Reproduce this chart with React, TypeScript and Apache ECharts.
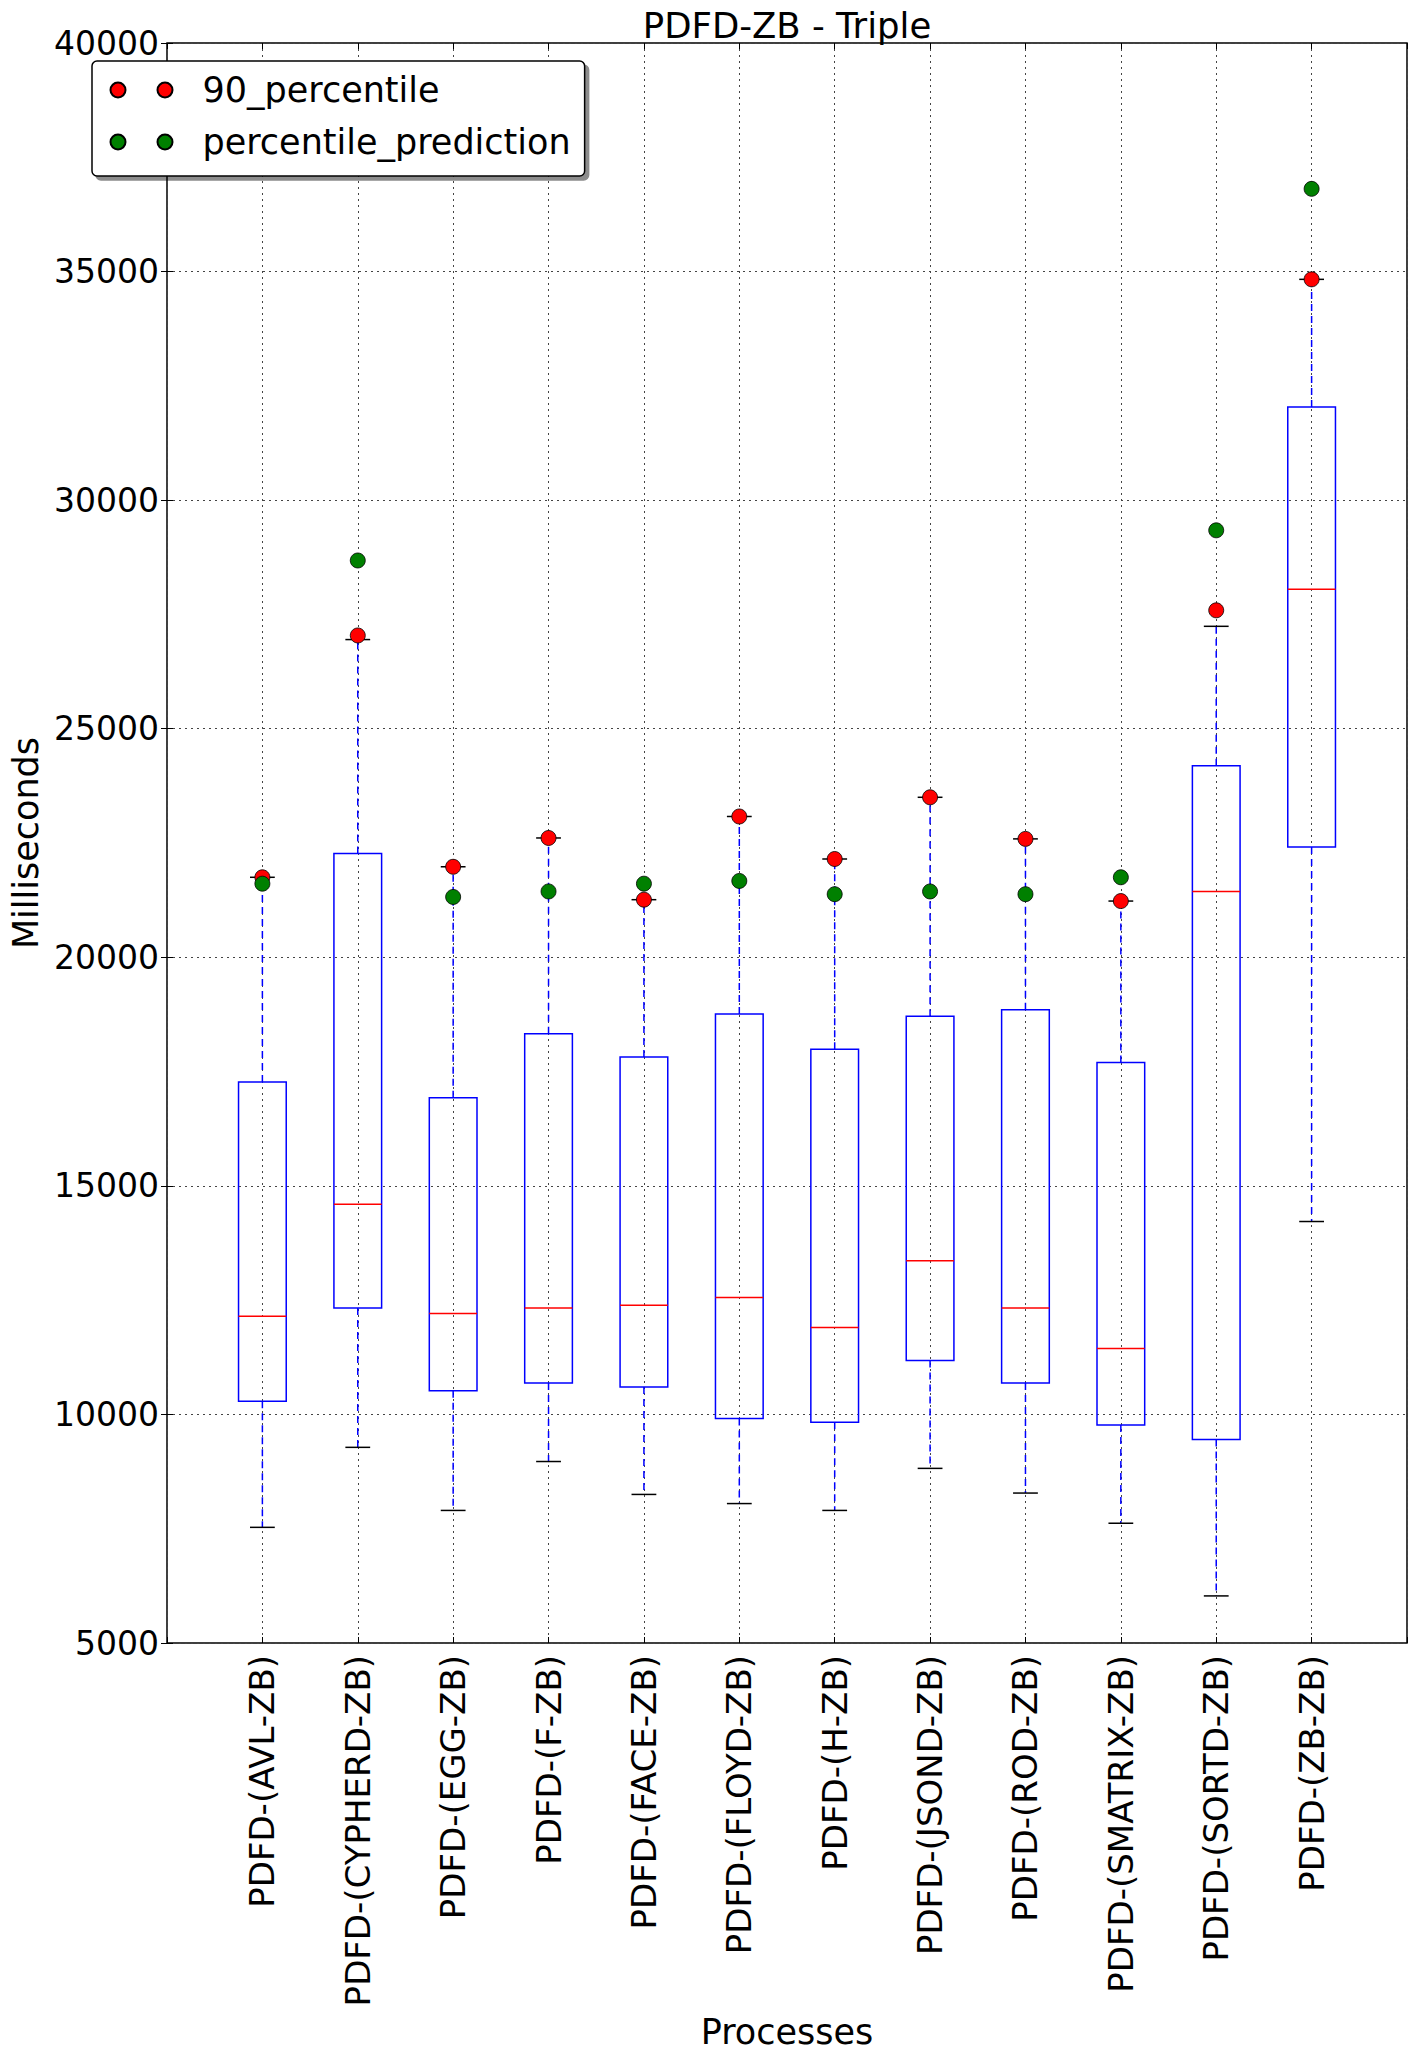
import React, { useEffect, useRef } from 'react';
import * as echarts from 'echarts';

const categories = [
  'PDFD-(AVL-ZB)',
  'PDFD-(CYPHERD-ZB)',
  'PDFD-(EGG-ZB)',
  'PDFD-(F-ZB)',
  'PDFD-(FACE-ZB)',
  'PDFD-(FLOYD-ZB)',
  'PDFD-(H-ZB)',
  'PDFD-(JSOND-ZB)',
  'PDFD-(ROD-ZB)',
  'PDFD-(SMATRIX-ZB)',
  'PDFD-(SORTD-ZB)',
  'PDFD-(ZB-ZB)',
];
const whiskerLow = [7530, 9280, 7900, 8970, 8250, 8050, 7900, 8820, 8280, 7620, 6030, 14220];
const quartile1 = [10290, 12330, 10520, 10690, 10600, 9910, 9830, 11180, 10690, 9770, 9450, 22410];
const median = [12150, 14600, 12210, 12330, 12390, 12560, 11900, 13360, 12330, 11440, 21440, 28050];
const quartile3 = [17270, 22270, 16930, 18330, 17820, 18760, 17990, 18710, 18850, 17700, 24190, 32040];
const whiskerHigh = [21750, 26950, 21980, 22610, 21260, 23080, 22150, 23500, 22590, 21230, 27240, 34830];
const percentile90 = [21750, 27040, 21980, 22610, 21260, 23080, 22150, 23500, 22590, 21230, 27590, 34830];
const percentilePrediction = [21610, 28680, 21320, 21440, 21610, 21670, 21380, 21440, 21380, 21750, 29340, 36810];
const yTicks = [5000, 10000, 15000, 20000, 25000, 30000, 35000, 40000];

const FONT = "'DejaVu Sans', sans-serif";
const BOX_WIDTH = 0.5;
const CAP_WIDTH = 0.26;
const TWO_DOTS =
  'path://M0,7.5A7.5,7.5,0,1,0,15,7.5A7.5,7.5,0,1,0,0,7.5Z M47,7.5A7.5,7.5,0,1,0,62,7.5A7.5,7.5,0,1,0,47,7.5Z';

export default function App() {
  const ref = useRef<HTMLDivElement>(null);

  useEffect(() => {
    if (!ref.current) return;
    const chart = echarts.init(ref.current, undefined, { renderer: 'svg' });

    const boxData = categories.map((_, i) => [
      i + 1,
      whiskerLow[i],
      quartile1[i],
      median[i],
      quartile3[i],
      whiskerHigh[i],
    ]);

    const yMin = yTicks[0];
    const yMax = yTicks[yTicks.length - 1];
    const yInterval = yTicks[1] - yTicks[0];

    const tickStyle = { inside: true, length: 6, lineStyle: { color: '#000', width: 1 } };

    const option: any = {
      animation: false,
      backgroundColor: '#fff',
      title: {
        text: 'PDFD-ZB - Triple',
        left: 787,
        top: 7,
        textAlign: 'center',
        padding: 0,
        textStyle: { fontFamily: FONT, fontSize: 35.5, fontWeight: 'normal', color: '#000' },
      },
      grid: {
        left: 167,
        top: 43,
        width: 1240,
        height: 1600,
        containLabel: false,
        outerBoundsMode: 'none',
        show: true,
        borderColor: '#000',
        borderWidth: 1.5,
        backgroundColor: 'transparent',
      },
      legend: {
        orient: 'vertical',
        left: 92,
        top: 61,
        padding: [9, 14, 14, 17.5],
        itemWidth: 62,
        itemHeight: 15,
        itemGap: 12,
        icon: TWO_DOTS,
        selectedMode: false,
        textStyle: {
          fontFamily: FONT,
          fontSize: 35,
          color: '#000',
          lineHeight: 40,
          padding: [0, 0, 0, 25],
        },
        backgroundColor: '#fff',
        borderColor: '#000',
        borderWidth: 1.5,
        borderRadius: 5,
        shadowColor: 'rgba(0,0,0,0.45)',
        shadowBlur: 1,
        shadowOffsetX: 4,
        shadowOffsetY: 4,
        data: ['90_percentile', 'percentile_prediction'],
      },
      xAxis: [
        {
          type: 'value',
          min: 0,
          max: categories.length + 1,
          interval: 1,
          axisLine: { show: false },
          axisTick: tickStyle,
          axisLabel: {
            fontFamily: FONT,
            fontSize: 34,
            color: '#000',
            rotate: 90,
            margin: 12,
            formatter: (v: number) => {
              const idx = Math.round(v) - 1;
              return idx >= 0 && idx < categories.length ? categories[idx] : '';
            },
          },
          splitLine: { show: true, lineStyle: { color: '#444', type: [2, 4], width: 1 } },
          name: 'Processes',
          nameLocation: 'middle',
          nameGap: 369,
          nameTextStyle: { fontFamily: FONT, fontSize: 35, color: '#000' },
        },
        {
          type: 'value',
          position: 'top',
          min: 0,
          max: categories.length + 1,
          interval: 1,
          axisLine: { show: false },
          axisTick: tickStyle,
          axisLabel: { show: false },
          splitLine: { show: false },
        },
      ],
      yAxis: [
        {
          type: 'value',
          min: yMin,
          max: yMax,
          interval: yInterval,
          axisLine: { show: false },
          axisTick: tickStyle,
          axisLabel: {
            fontFamily: FONT,
            fontSize: 33,
            color: '#000',
            margin: 8,
            formatter: (v: number) => String(v),
          },
          splitLine: { show: true, lineStyle: { color: '#444', type: [2, 4], width: 1 } },
          name: 'Milliseconds',
          nameLocation: 'middle',
          nameRotate: 90,
          nameGap: 111,
          nameTextStyle: { fontFamily: FONT, fontSize: 35, color: '#000' },
        },
        {
          type: 'value',
          position: 'right',
          min: yMin,
          max: yMax,
          interval: yInterval,
          axisLine: { show: false },
          axisTick: tickStyle,
          axisLabel: { show: false },
          splitLine: { show: false },
        },
      ],
      series: [
        {
          type: 'custom',
          name: 'box',
          xAxisIndex: 0,
          yAxisIndex: 0,
          data: boxData,
          encode: { x: 0, y: [1, 2, 3, 4, 5] },
          z: 2,
          renderItem: (_params: any, api: any) => {
            const x = api.value(0);
            const pLo = api.coord([x, api.value(1)]);
            const pQ1 = api.coord([x, api.value(2)]);
            const pMed = api.coord([x, api.value(3)]);
            const pQ3 = api.coord([x, api.value(4)]);
            const pHi = api.coord([x, api.value(5)]);
            const boxW = api.size([BOX_WIDTH, 0])[0];
            const capW = api.size([CAP_WIDTH, 0])[0];
            const cx = pLo[0];
            const whisker = { stroke: '#0000ff', lineWidth: 1.5, lineDash: [7, 5], fill: null };
            const cap = { stroke: '#000', lineWidth: 1.5, fill: null };
            return {
              type: 'group',
              children: [
                { type: 'line', shape: { x1: cx, y1: pQ1[1], x2: cx, y2: pLo[1] }, style: whisker },
                { type: 'line', shape: { x1: cx, y1: pQ3[1], x2: cx, y2: pHi[1] }, style: whisker },
                { type: 'line', shape: { x1: cx - capW / 2, y1: pLo[1], x2: cx + capW / 2, y2: pLo[1] }, style: cap },
                { type: 'line', shape: { x1: cx - capW / 2, y1: pHi[1], x2: cx + capW / 2, y2: pHi[1] }, style: cap },
                {
                  type: 'rect',
                  shape: { x: cx - boxW / 2, y: pQ3[1], width: boxW, height: pQ1[1] - pQ3[1] },
                  style: { fill: 'none', stroke: '#0000ff', lineWidth: 1.5 },
                },
                {
                  type: 'line',
                  shape: { x1: cx - boxW / 2, y1: pMed[1], x2: cx + boxW / 2, y2: pMed[1] },
                  style: { stroke: '#ff0000', lineWidth: 1.5, fill: null },
                },
              ],
            };
          },
        },
        {
          type: 'scatter',
          name: '90_percentile',
          xAxisIndex: 0,
          yAxisIndex: 0,
          symbol: 'circle',
          symbolSize: 15,
          z: 3,
          itemStyle: { color: '#ff0000', borderColor: '#000', borderWidth: 0.8, opacity: 1 },
          data: percentile90.map((v, i) => [i + 1, v]),
        },
        {
          type: 'scatter',
          name: 'percentile_prediction',
          xAxisIndex: 0,
          yAxisIndex: 0,
          symbol: 'circle',
          symbolSize: 15,
          z: 3,
          itemStyle: { color: '#008000', borderColor: '#000', borderWidth: 0.8, opacity: 1 },
          data: percentilePrediction.map((v, i) => [i + 1, v]),
        },
      ],
    };

    chart.setOption(option);
    return () => {
      chart.dispose();
    };
  }, []);

  return (
    <div
      ref={ref}
      style={{ position: 'absolute', left: 0, top: 0, width: 1416, height: 2059, background: '#fff' }}
    />
  );
}
